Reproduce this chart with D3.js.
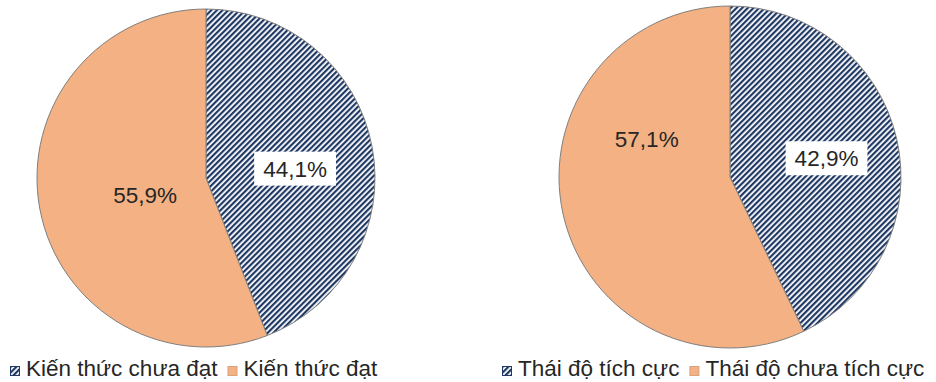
<!DOCTYPE html>
<html>
<head>
<meta charset="utf-8">
<script src="https://cdn.jsdelivr.net/npm/d3@7"></script>
<style>
  body { margin: 0; background: #fff; }
  text { font-family: "Liberation Sans", Arial, sans-serif; fill: #262626; }
</style>
</head>
<body>
<main></main>
<script>
// data for the two pies
const knowledgeCats = ["Kiến thức chưa đạt", "Kiến thức đạt"];
const knowledgeVals = [44.1, 55.9];

const attitudeCats = ["Thái độ tích cực", "Thái độ chưa tích cực"];
const attitudeVals = [42.9, 57.1];

const fmt = v => d3.format(".1f")(v).replace(".", ",") + "%";

// layout (label placement: angle in degrees clockwise from top, radius fraction)
const charts = [
  { cats: knowledgeCats, vals: knowledgeVals, cx: 206, cy: 178, r: 169,
    labels: [{ a: 84, f: 0.53, box: true }, { a: 254, f: 0.375, box: false }],
    legendX: 10 },
  { cats: attitudeCats, vals: attitudeVals, cx: 730, cy: 177, r: 171,
    labels: [{ a: 79, f: 0.575, box: true }, { a: 294.5, f: 0.535, box: false }],
    legendX: 502 }
];

const svg = d3.select("main").append("svg")
              .attr("width", 936)
              .attr("height", 382);

const defs = svg.append("defs");
const hatch = defs.append("pattern")
                  .attr("id", "hatch")
                  .attr("patternUnits", "userSpaceOnUse")
                  .attr("width", 4)
                  .attr("height", 4)
                  .attr("patternTransform", "rotate(45)");
hatch.append("rect").attr("width", 4).attr("height", 4).attr("fill", "#fff");
hatch.append("rect").attr("width", 2.2).attr("height", 4).attr("fill", "#1f3864");

const fills = ["url(#hatch)", "#f4b183"];

const pie = d3.pie().sort(null).value(d => d);

charts.forEach(c => {
  const g = svg.append("g").attr("transform", `translate(${c.cx},${c.cy})`);
  const arc = d3.arc().innerRadius(0).outerRadius(c.r);

  g.selectAll("path")
   .data(pie(c.vals))
   .enter().append("path")
   .attr("d", arc)
   .attr("fill", (d, i) => fills[i])
   .attr("stroke", "#7f7f7f")
   .attr("stroke-width", 1);

  // labels
  c.vals.forEach((v, i) => {
    const L = c.labels[i];
    const ang = L.a * Math.PI / 180;
    const x = Math.sin(ang) * c.r * L.f;
    const y = -Math.cos(ang) * c.r * L.f;
    const lg = g.append("g").attr("transform", `translate(${x},${y})`);
    const t = lg.append("text")
                .attr("text-anchor", "middle")
                .attr("dy", "0.35em")
                .style("font-size", "22.5px")
                .text(fmt(v));
    if (L.box) {
      const bb = t.node().getBBox();
      lg.insert("rect", "text")
        .attr("x", bb.x - 9)
        .attr("y", -17)
        .attr("width", bb.width + 18)
        .attr("height", 34)
        .attr("fill", "#fff");
    }
  });

  // legend
  const leg = svg.append("g").attr("transform", `translate(${c.legendX},366)`);
  let x = 0;
  c.cats.forEach((name, i) => {
    leg.append("rect")
       .attr("x", x + 0.5).attr("y", 0.5)
       .attr("width", 9).attr("height", 9)
       .attr("fill", fills[i])
       .attr("stroke", i === 0 ? "#1f3864" : "#d9a27a")
       .attr("stroke-width", 1);
    const t = leg.append("text")
                 .attr("x", x + 16)
                 .attr("y", 10)
                 .style("font-size", "22.5px")
                 .text(name);
    x += 16 + t.node().getComputedTextLength() + 10;
  });
});
</script>
</body>
</html>
